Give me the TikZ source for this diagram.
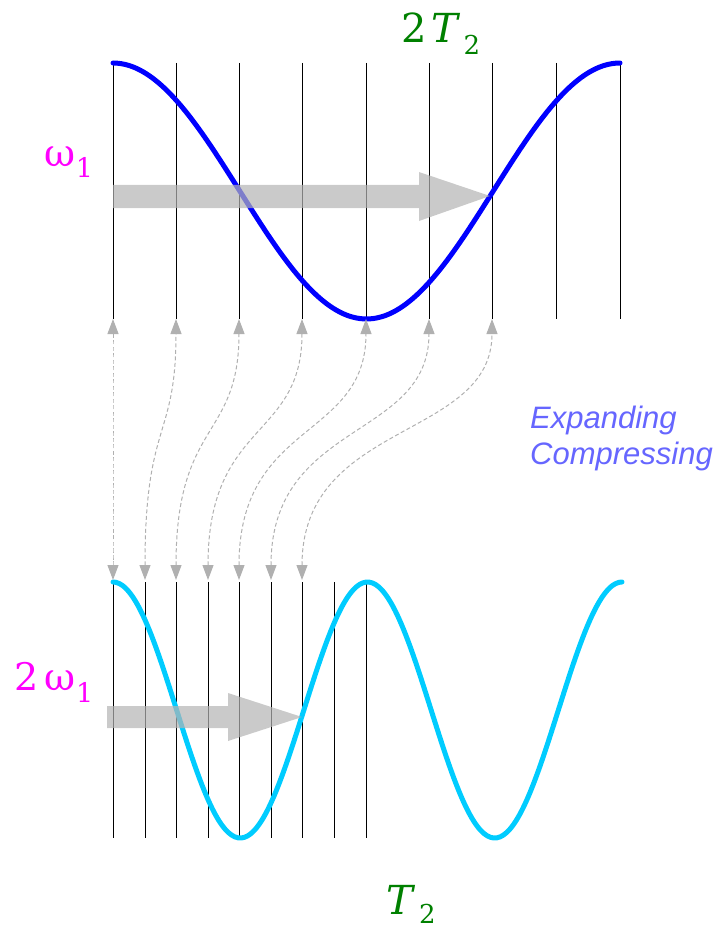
\documentclass[tikz,border=0pt]{standalone}
\usepackage{fontspec}
\setmainfont{DejaVu Serif}
\newfontfamily\lsans{Liberation Sans}
\usetikzlibrary{arrows.meta}
\definecolor{wblue}{RGB}{0,0,255}
\definecolor{wcyan}{RGB}{0,204,255}
\definecolor{lblgreen}{RGB}{0,128,0}
\definecolor{lblmag}{RGB}{255,0,255}
\definecolor{txtblue}{RGB}{102,102,255}
\definecolor{conngray}{RGB}{176,176,176}
\definecolor{bandgray}{RGB}{180,180,180}
\newcommand\myfs[1]{\fontsize{#1}{#1}\selectfont}
\tikzset{
  vline/.style={black, line width=0.8pt},
  wave/.style={line width=5pt, line cap=round},
  conn/.style={conngray, line width=1pt, dash pattern=on 4pt off 2.5pt,
    {Triangle[width=11pt,length=15pt]}-{Triangle[width=11pt,length=15pt]}},
  band/.style={fill=bandgray, fill opacity=0.7, draw=none},
  lbl/.style={anchor=base west, inner sep=0pt, outer sep=0pt},
}
\begin{document}
\begin{tikzpicture}[x=1pt,y=-1pt]
\useasboundingbox (0,0) rectangle (721,928);
% top vertical lines
\foreach \xx in {113,176,239,302,366,429,492,556,620}
  \draw[vline] (\xx,63) -- (\xx,319);
% top wave
\draw[wave, wblue] plot[domain=113:620, samples=120, smooth] (\x, {191-128*cos(0.710059*(\x-113))});
% bottom vertical lines
\foreach \xx in {113,145,176,208,239,271,302,334,366}
  \draw[vline] (\xx,582) -- (\xx,838);
% bottom wave
\draw[wave, wcyan] plot[domain=113:622, samples=160, smooth] (\x, {710-128*cos(1.414538*(\x-113))});
% big arrows
\fill[band] (113,185) -- (419,185) -- (419,172) -- (490,196) -- (419,221) -- (419,208) -- (113,208) -- cycle;
\fill[band] (107,706) -- (228,706) -- (228,693) -- (302,717) -- (228,741) -- (228,728) -- (107,728) -- cycle;
% connector end points
\foreach \i/\xt/\xb in {1/113/113,2/176/145,3/239/176,4/302/208,5/366/239,6/429/271,7/492/302}{
  \coordinate (t\i) at (\xt,319);
  \coordinate (b\i) at (\xb,580);
  \coordinate (ct\i) at (\xt,440);
  \coordinate (cb\i) at (\xb,420);
}
\foreach \i in {1,...,7}
  \draw[conn] (b\i) .. controls (cb\i) and (ct\i) .. (t\i);
% labels
\node[lbl, text=lblgreen] (T2top) at (401,43) {\myfs{40}2\kern5pt\textit{T}\kern3pt\raisebox{-12pt}{\myfs{26}2}};
\node[lbl, text=lblmag] (w1) at (44,167) {\myfs{38}ω\kern1pt\raisebox{-11pt}{\myfs{27}1}};
\node[lbl, text=lblmag] (w2) at (14,690) {\myfs{38}2\kern6pt ω\kern1pt\raisebox{-12pt}{\myfs{27}1}};
\node[lbl, text=lblgreen] (T2bot) at (386,914) {\myfs{40}\textit{T}\kern4pt\raisebox{-9pt}{\myfs{26}2}};
\node[anchor=north west, inner sep=0pt, text=txtblue, align=left,
  font={\lsans\itshape\fontsize{31}{36}\selectfont}] (ec) at (530,406)
  {Expanding\\Compressing};
\end{tikzpicture}
\end{document}
